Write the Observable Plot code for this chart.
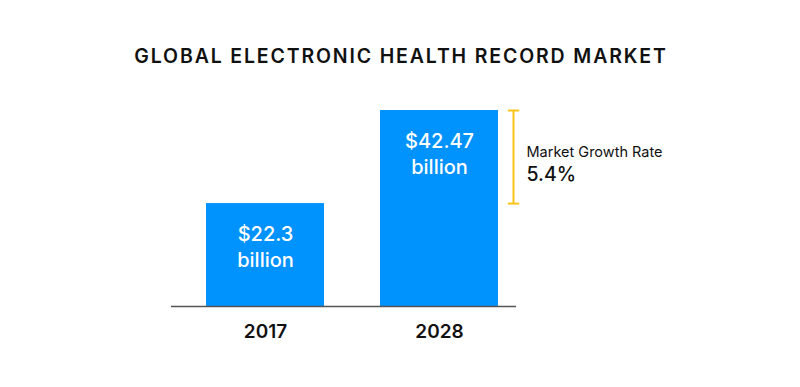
<!DOCTYPE html>
<html>
<head>
<meta charset="utf-8">
<script src="https://cdn.jsdelivr.net/npm/d3@7"></script>
<script src="https://cdn.jsdelivr.net/npm/@observablehq/plot@0.6"></script>
<style>
  html, body { margin: 0; padding: 0; background: #fff; }
  #chart svg { display: block; }
</style>
</head>
<body>
<div id="chart"></div>
<script>
const years = ["2017", "2028"];
const values = [22.3, 42.47];
const valueLabels = ["$22.3", "$42.47"];
const unitLabel = "billion";
const title = "GLOBAL ELECTRONIC HEALTH RECORD MARKET";
const growthLabel = "Market Growth Rate";
const growthValue = "5.4%";

const data = years.map((y, i) => ({year: y, value: values[i], label: valueLabels[i] + "\n" + unitLabel}));
const last = data[data.length - 1];
const first = data[0];

const FONT = "Inter, Lato, sans-serif";
const BLUE = "#0092fd";
const GOLD = "#fcc419";

const hbar = {
  draw(ctx, size) {
    const r = Math.sqrt(size / Math.PI);
    ctx.moveTo(-r, 0);
    ctx.lineTo(r, 0);
  }
};

const mid = (first.value + last.value) / 2;

const chart = Plot.plot({
  width: 800,
  height: 387,
  marginLeft: 171,
  marginRight: 284,
  marginTop: 110,
  marginBottom: 81,
  style: {fontFamily: FONT, background: "#fff"},
  x: {domain: years, paddingInner: 0.324, paddingOuter: 0.151, align: 0.66, label: null},
  y: {domain: [0, d3.max(values)], axis: null},
  marks: [
    Plot.barY(data, {x: "year", y: "value", fill: BLUE}),
    Plot.ruleY([0], {stroke: "#555", strokeWidth: 1.5}),
    Plot.axisX({tickSize: 0, tickPadding: 18, fontSize: 19, fontWeight: 600, fill: "#111", label: null}),
    Plot.text(data, {x: "year", y: "value", text: "label", fill: "#fff", fontSize: 20, fontWeight: 500, lineAnchor: "top", dy: 19, lineHeight: 1.3}),
    Plot.ruleX([last], {x: "year", y1: first.value, y2: last.value, dx: 74, stroke: GOLD, strokeWidth: 2}),
    Plot.dot([first, last], {x: () => last.year, y: "value", dx: 74, r: 5.7, symbol: hbar, stroke: GOLD, strokeWidth: 2, fill: "none"}),
    Plot.text([growthLabel], {x: () => last.year, y: () => mid, dx: 87, dy: -5, textAnchor: "start", fontSize: 14.5, fill: "#111"}),
    Plot.text([growthValue], {x: () => last.year, y: () => mid, dx: 87, dy: 18, textAnchor: "start", fontSize: 19.5, fontWeight: 500, fill: "#111"}),
    Plot.text([title], {frameAnchor: "top", dy: -61, dx: 57, fontSize: 19.5, fontWeight: 600, fill: "#111"})
  ]
});
d3.select(chart).selectAll("text").filter(function() { return this.textContent === title; })
  .style("letter-spacing", "1.85px");
document.getElementById("chart").appendChild(chart);
</script>
</body>
</html>
